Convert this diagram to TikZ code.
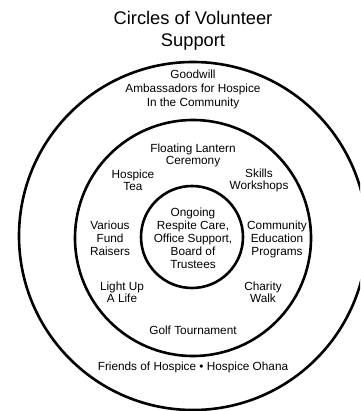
\documentclass[tikz,border=0pt]{standalone}
\usepackage{fontspec}
\setmainfont{Liberation Sans}
\tikzset{
  ring/.style={draw=black, line width=2.6pt},
  lbl/.style={font=\fontsize{11.8}{12.8}\selectfont, align=center, inner sep=0pt, anchor=base},
  ttl/.style={font=\fontsize{18.3}{21.7}\selectfont, align=center, inner sep=0pt, anchor=base}
}
\begin{document}
\begin{tikzpicture}[x=1pt,y=-1pt]
\useasboundingbox (0,0) rectangle (360,411);
\fill[white] (0,0) rectangle (360,411);
\begin{scope}
\clip (0,0) rectangle (360,411);
\node[ring, circle, minimum size=348pt, inner sep=0pt] (outer) at (193,236) {};
\node[ring, circle, minimum size=236pt, inner sep=0pt] (middle) at (193,238) {};
\node[ring, circle, minimum size=102pt, inner sep=0pt] (inner) at (192,237) {};
\end{scope}
% anchor=base = baseline of the last line
\node[ttl] (title) at (193,46.7) {Circles of Volunteer\\Support};
\node[lbl, font=\fontsize{11.8}{14}\selectfont] (goodwill) at (193,107) {Goodwill\\Ambassadors for Hospice\\In the Community};
\node[lbl, font=\fontsize{11.8}{12}\selectfont] (lantern) at (193,164.3) {Floating Lantern\\Ceremony};
\node[lbl, font=\fontsize{11.8}{12.4}\selectfont] (tea) at (133,190.7) {Hospice\\Tea};
\node[lbl, font=\fontsize{11.8}{12.4}\selectfont] (skills) at (259,190) {Skills\\Workshops};
\node[lbl] (various) at (110,255) {Various\\Fund\\Raisers};
\node[lbl] (community) at (277,255) {Community\\Education\\Programs};
\node[lbl, font=\fontsize{11.8}{13}\selectfont] (ongoing) at (193,268) {Ongoing\\Respite Care,\\Office Support,\\Board of\\Trustees};
\node[lbl, font=\fontsize{11.8}{12.7}\selectfont] (lightup) at (122,302.7) {Light Up\\A Life};
\node[lbl, font=\fontsize{11.8}{12.7}\selectfont] (charity) at (263,302.7) {Charity\\Walk};
\node[lbl] (golf) at (193,334) {Golf Tournament};
\node[lbl] (friends) at (193,370.7) {Friends of Hospice • Hospice Ohana};
\end{tikzpicture}
\end{document}
